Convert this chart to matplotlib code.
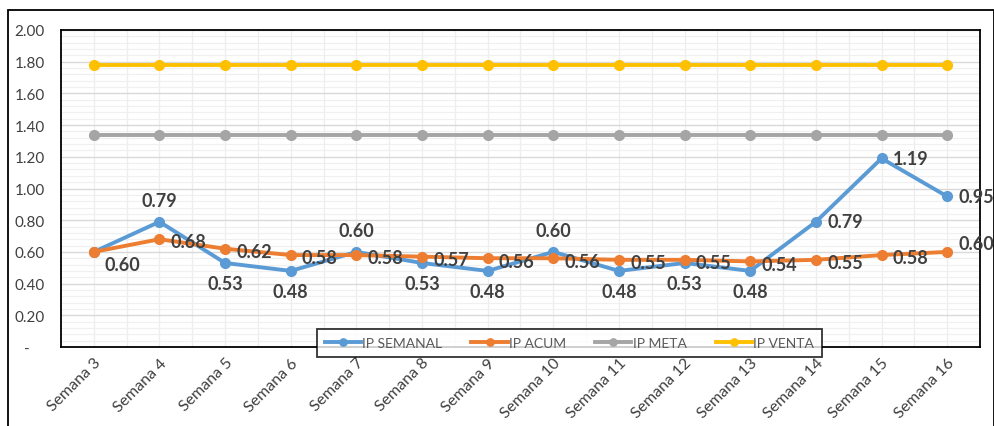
import matplotlib
matplotlib.use("Agg")
import matplotlib.pyplot as plt
from matplotlib.patches import Rectangle
from matplotlib.ticker import MultipleLocator, FixedLocator, FuncFormatter

semanas = ["Semana 3", "Semana 4", "Semana 5", "Semana 6", "Semana 7", "Semana 8",
           "Semana 9", "Semana 10", "Semana 11", "Semana 12", "Semana 13",
           "Semana 14", "Semana 15", "Semana 16"]
ip_semanal = [0.60, 0.79, 0.53, 0.48, 0.60, 0.53, 0.48, 0.60, 0.48, 0.53, 0.48, 0.79, 1.19, 0.95]
ip_acum = [0.60, 0.68, 0.62, 0.58, 0.58, 0.57, 0.56, 0.56, 0.55, 0.55, 0.54, 0.55, 0.58, 0.60]
ip_meta = [1.34] * 14
ip_venta = [1.78] * 14

# label placement for IP SEMANAL: 'above', 'below', 'right' or None
semanal_pos = [None, "above", "below", "below", "above", "below", "below", "above",
               "below", "below", "below", "right", "right", "right"]

C_BLUE = "#5B9BD5"
C_ORANGE = "#ED7D31"
C_GRAY = "#A5A5A5"
C_YELLOW = "#FFC000"
C_TEXT = "#404040"
C_TICK = "#404040"

plt.rcParams["font.family"] = ["Lato", "DejaVu Sans"]

W, H = 995, 427
fig = plt.figure(figsize=(W / 100, H / 100), dpi=100)
fig.patch.set_facecolor("white")

# outer chart frame
fig.add_artist(Rectangle((8 / W, -0.01), (994 - 8) / W, (427 - 11) / H + 0.01,
                         transform=fig.transFigure, fill=False, edgecolor="black",
                         linewidth=1.3, zorder=0))

left, right, top, bottom = 61, 980, 31, 348
ax = fig.add_axes([left / W, 1 - bottom / H, (right - left) / W, (bottom - top) / H])

x = list(range(len(semanas)))
ax.set_xlim(-0.5, len(semanas) - 0.5)
ax.set_ylim(0, 2.0)

# grid
ax.yaxis.set_major_locator(MultipleLocator(0.2))
ax.yaxis.set_minor_locator(MultipleLocator(0.04))
ax.xaxis.set_major_locator(FixedLocator(x))
ax.xaxis.set_minor_locator(FixedLocator([i + 0.5 for i in x]))
ax.grid(which="major", axis="y", color="#D9D9D9", linewidth=1.0, zorder=0)
ax.grid(which="minor", axis="y", color="#F0F0F0", linewidth=0.9, zorder=0)
ax.grid(which="both", axis="x", color="#EEEEEE", linewidth=0.9, zorder=0)
ax.set_axisbelow(True)

for s in ax.spines.values():
    s.set_color("black")
    s.set_linewidth(1.3)

ax.yaxis.set_major_formatter(FuncFormatter(lambda v, p: "-    " if abs(v) < 1e-9 else f"{v:.2f}"))
ax.tick_params(axis="y", which="both", length=0, pad=11.5, labelsize=11, labelcolor=C_TICK)
ax.tick_params(axis="x", which="both", length=0, pad=6, labelsize=11.5, labelcolor=C_TICK)
ax.set_xticks(x)
ax.set_xticklabels(semanas, rotation=45, ha="right", rotation_mode="anchor")

lw, ms = 2.8, 7
ax.plot(x, ip_venta, color=C_YELLOW, lw=lw, marker="o", ms=ms, label="IP VENTA", zorder=3)
ax.plot(x, ip_meta, color=C_GRAY, lw=lw, marker="o", ms=ms, label="IP META", zorder=3)
ax.plot(x, ip_semanal, color=C_BLUE, lw=lw, marker="o", ms=ms, label="IP SEMANAL", zorder=4)
ax.plot(x, ip_acum, color=C_ORANGE, lw=lw, marker="o", ms=ms, label="IP ACUM", zorder=5)

lab_kw = dict(fontsize=13, fontweight="bold", color=C_TEXT, zorder=6, annotation_clip=False)
for i, (v, pos) in enumerate(zip(ip_semanal, semanal_pos)):
    if pos == "above":
        ax.annotate(f"{v:.2f}", (i, v), xytext=(0, 9), textcoords="offset points",
                    ha="center", va="bottom", **lab_kw)
    elif pos == "below":
        ax.annotate(f"{v:.2f}", (i, v), xytext=(0, -9), textcoords="offset points",
                    ha="center", va="top", **lab_kw)
    elif pos == "right":
        ax.annotate(f"{v:.2f}", (i, v), xytext=(8, 0), textcoords="offset points",
                    ha="left", va="center", **lab_kw)

for i, v in enumerate(ip_acum):
    dy = -2
    if i == 0:
        dy = -9
    if i == len(ip_acum) - 1:
        dy = 6
    ax.annotate(f"{v:.2f}", (i, v), xytext=(8, dy), textcoords="offset points",
                ha="left", va="center", **lab_kw)

handles, labels = ax.get_legend_handles_labels()
order = [2, 3, 1, 0]
leg = ax.legend([handles[k] for k in order], [labels[k] for k in order],
                loc="center", bbox_to_anchor=((569.5 - left) / (right - left), (bottom - 344) / (bottom - top)),
                ncol=4, frameon=True, fancybox=False, fontsize=10, handlelength=2.6,
                columnspacing=2.1, handletextpad=0.1, borderpad=0.55, markerscale=0.75)
leg.get_frame().set_edgecolor("black")
leg.get_frame().set_linewidth(1.3)
leg.set_zorder(10)
for t in leg.get_texts():
    t.set_color("#595959")

fig.savefig("out.png", dpi=100)
